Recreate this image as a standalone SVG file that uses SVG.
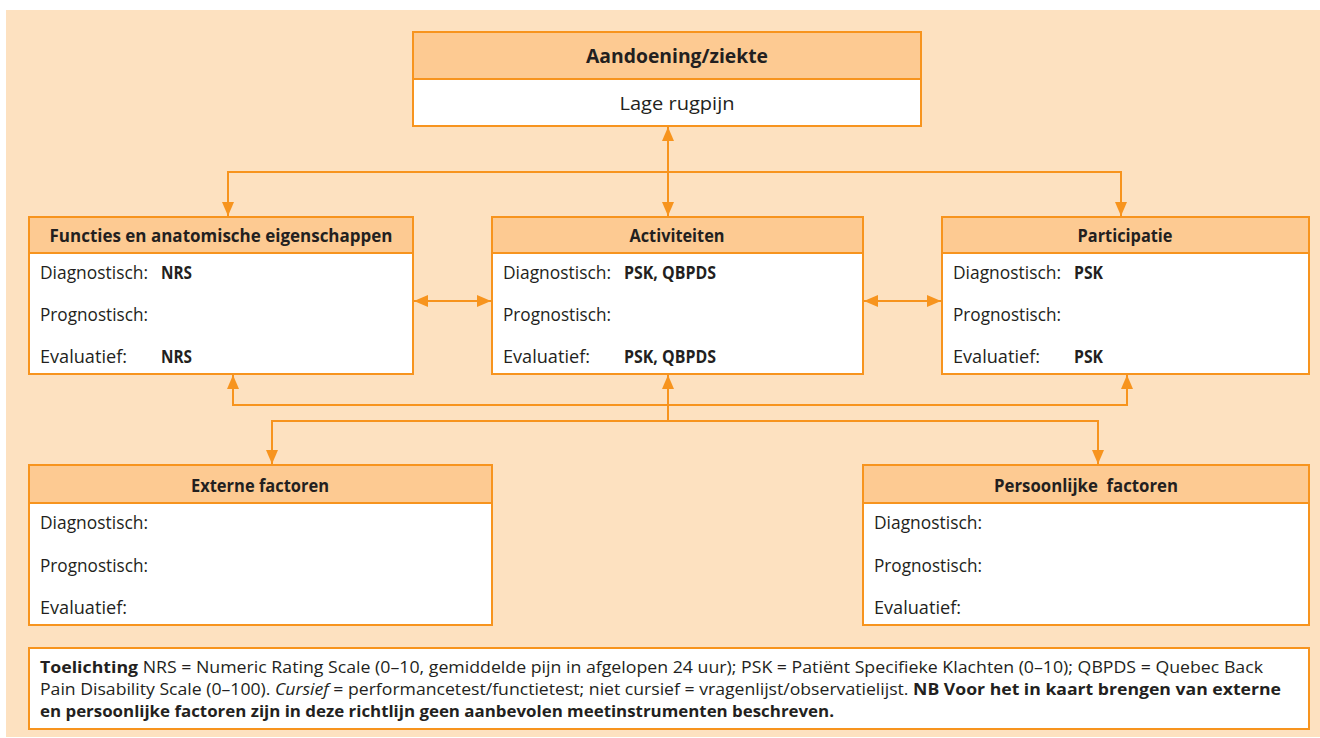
<svg xmlns="http://www.w3.org/2000/svg" width="1320" height="738" viewBox="0 0 1320 738">
<style>
.bg{fill:#FDE1C0}
.box{fill:#FFFFFF;stroke:#F7941E;stroke-width:2}
.hdr{fill:#FDCA92;stroke:#F7941E;stroke-width:2}
.conn{fill:none;stroke:#F7941E;stroke-width:2}
text{font-family:"Open Sans","Noto Sans","Liberation Sans",sans-serif;fill:#231F20}
.h{font-size:17.5px;font-weight:bold;text-anchor:middle}
.t{font-size:17.5px}
.v{font-size:17.5px;font-weight:bold}
.fn{font-size:16px}
.b{font-weight:bold}
.i{font-style:italic}
</style>
<defs>
<marker id="ah" viewBox="0 0 14 12" refX="14" refY="6" markerWidth="14" markerHeight="12" markerUnits="userSpaceOnUse" orient="auto-start-reverse">
<path d="M0,0 L14,6 L0,12 z" fill="#F7941E"/>
</marker>
</defs>
<rect class="bg" x="6" y="10" width="1314" height="727"/>

<g id="connectors">
<path class="conn" d="M668,127 V216" marker-start="url(#ah)" marker-end="url(#ah)"/>
<path class="conn" d="M228,216 V172 H1121 V216" marker-start="url(#ah)" marker-end="url(#ah)"/>
<path class="conn" d="M414,301 H491" marker-start="url(#ah)" marker-end="url(#ah)"/>
<path class="conn" d="M864,301 H941" marker-start="url(#ah)" marker-end="url(#ah)"/>
<path class="conn" d="M233,375 V405 H1127 V375" marker-start="url(#ah)" marker-end="url(#ah)"/>
<path class="conn" d="M668,421 V375" marker-end="url(#ah)"/>
<path class="conn" d="M272,464 V421 H1098 V464" marker-start="url(#ah)" marker-end="url(#ah)"/>
</g>

<g id="aandoening">
<rect class="box" x="413" y="32" width="508" height="94"/>
<rect class="hdr" x="413" y="32" width="508" height="47"/>
<text class="h" x="677" y="63" style="font-size:19px" textLength="182" lengthAdjust="spacingAndGlyphs">Aandoening/ziekte</text>
<text class="t" x="677" y="110" text-anchor="middle" style="font-size:18px" textLength="115" lengthAdjust="spacingAndGlyphs">Lage rugpijn</text>
</g>

<g id="functies">
<rect class="box" x="29" y="217" width="384" height="157"/>
<rect class="hdr" x="29" y="217" width="384" height="36"/>
<text class="h" x="221" y="242" textLength="343" lengthAdjust="spacingAndGlyphs">Functies en anatomische eigenschappen</text>
<text class="t" x="40" y="279" textLength="108" lengthAdjust="spacingAndGlyphs">Diagnostisch:</text>
<text class="v" x="161" y="279" textLength="31" lengthAdjust="spacingAndGlyphs">NRS</text>
<text class="t" x="40" y="321" textLength="108" lengthAdjust="spacingAndGlyphs">Prognostisch:</text>
<text class="t" x="40" y="363" textLength="87" lengthAdjust="spacingAndGlyphs">Evaluatief:</text>
<text class="v" x="161" y="363" textLength="31" lengthAdjust="spacingAndGlyphs">NRS</text>
</g>

<g id="activiteiten">
<rect class="box" x="492" y="217" width="371" height="157"/>
<rect class="hdr" x="492" y="217" width="371" height="36"/>
<text class="h" x="677" y="242" textLength="95" lengthAdjust="spacingAndGlyphs">Activiteiten</text>
<text class="t" x="503" y="279" textLength="108" lengthAdjust="spacingAndGlyphs">Diagnostisch:</text>
<text class="v" x="624" y="279" textLength="92" lengthAdjust="spacingAndGlyphs">PSK, QBPDS</text>
<text class="t" x="503" y="321" textLength="108" lengthAdjust="spacingAndGlyphs">Prognostisch:</text>
<text class="t" x="503" y="363" textLength="87" lengthAdjust="spacingAndGlyphs">Evaluatief:</text>
<text class="v" x="624" y="363" textLength="92" lengthAdjust="spacingAndGlyphs">PSK, QBPDS</text>
</g>

<g id="participatie">
<rect class="box" x="942" y="217" width="367" height="157"/>
<rect class="hdr" x="942" y="217" width="367" height="36"/>
<text class="h" x="1125" y="242" textLength="95" lengthAdjust="spacingAndGlyphs">Participatie</text>
<text class="t" x="953" y="279" textLength="108" lengthAdjust="spacingAndGlyphs">Diagnostisch:</text>
<text class="v" x="1074" y="279" textLength="29" lengthAdjust="spacingAndGlyphs">PSK</text>
<text class="t" x="953" y="321" textLength="108" lengthAdjust="spacingAndGlyphs">Prognostisch:</text>
<text class="t" x="953" y="363" textLength="87" lengthAdjust="spacingAndGlyphs">Evaluatief:</text>
<text class="v" x="1074" y="363" textLength="29" lengthAdjust="spacingAndGlyphs">PSK</text>
</g>

<g id="externe">
<rect class="box" x="29" y="465" width="463" height="160"/>
<rect class="hdr" x="29" y="465" width="463" height="38"/>
<text class="h" x="260" y="492" textLength="138" lengthAdjust="spacingAndGlyphs">Externe factoren</text>
<text class="t" x="40" y="529" textLength="108" lengthAdjust="spacingAndGlyphs">Diagnostisch:</text>
<text class="t" x="40" y="572" textLength="108" lengthAdjust="spacingAndGlyphs">Prognostisch:</text>
<text class="t" x="40" y="614" textLength="87" lengthAdjust="spacingAndGlyphs">Evaluatief:</text>
</g>

<g id="persoonlijke">
<rect class="box" x="863" y="465" width="446" height="160"/>
<rect class="hdr" x="863" y="465" width="446" height="38"/>
<text class="h" x="1086" y="492" textLength="184" lengthAdjust="spacingAndGlyphs">Persoonlijke&#160; factoren</text>
<text class="t" x="874" y="529" textLength="108" lengthAdjust="spacingAndGlyphs">Diagnostisch:</text>
<text class="t" x="874" y="572" textLength="108" lengthAdjust="spacingAndGlyphs">Prognostisch:</text>
<text class="t" x="874" y="614" textLength="87" lengthAdjust="spacingAndGlyphs">Evaluatief:</text>
</g>

<g id="toelichting">
<rect class="box" x="29" y="648" width="1280" height="81"/>
<text class="fn" x="40" y="673" textLength="1223" lengthAdjust="spacingAndGlyphs"><tspan class="b">Toelichting</tspan> NRS = Numeric Rating Scale (0–10, gemiddelde pijn in afgelopen 24 uur); PSK = Patiënt Specifieke Klachten (0–10); QBPDS = Quebec Back</text>
<text class="fn" x="40" y="695" textLength="1241" lengthAdjust="spacingAndGlyphs">Pain Disability Scale (0–100). <tspan class="i">Cursief</tspan> = performancetest/functietest; niet cursief = vragenlijst/observatielijst. <tspan class="b">NB Voor het in kaart brengen van externe</tspan></text>
<text class="fn b" x="40" y="717" textLength="794" lengthAdjust="spacingAndGlyphs">en persoonlijke factoren zijn in deze richtlijn geen aanbevolen meetinstrumenten beschreven.</text>
</g>
</svg>
